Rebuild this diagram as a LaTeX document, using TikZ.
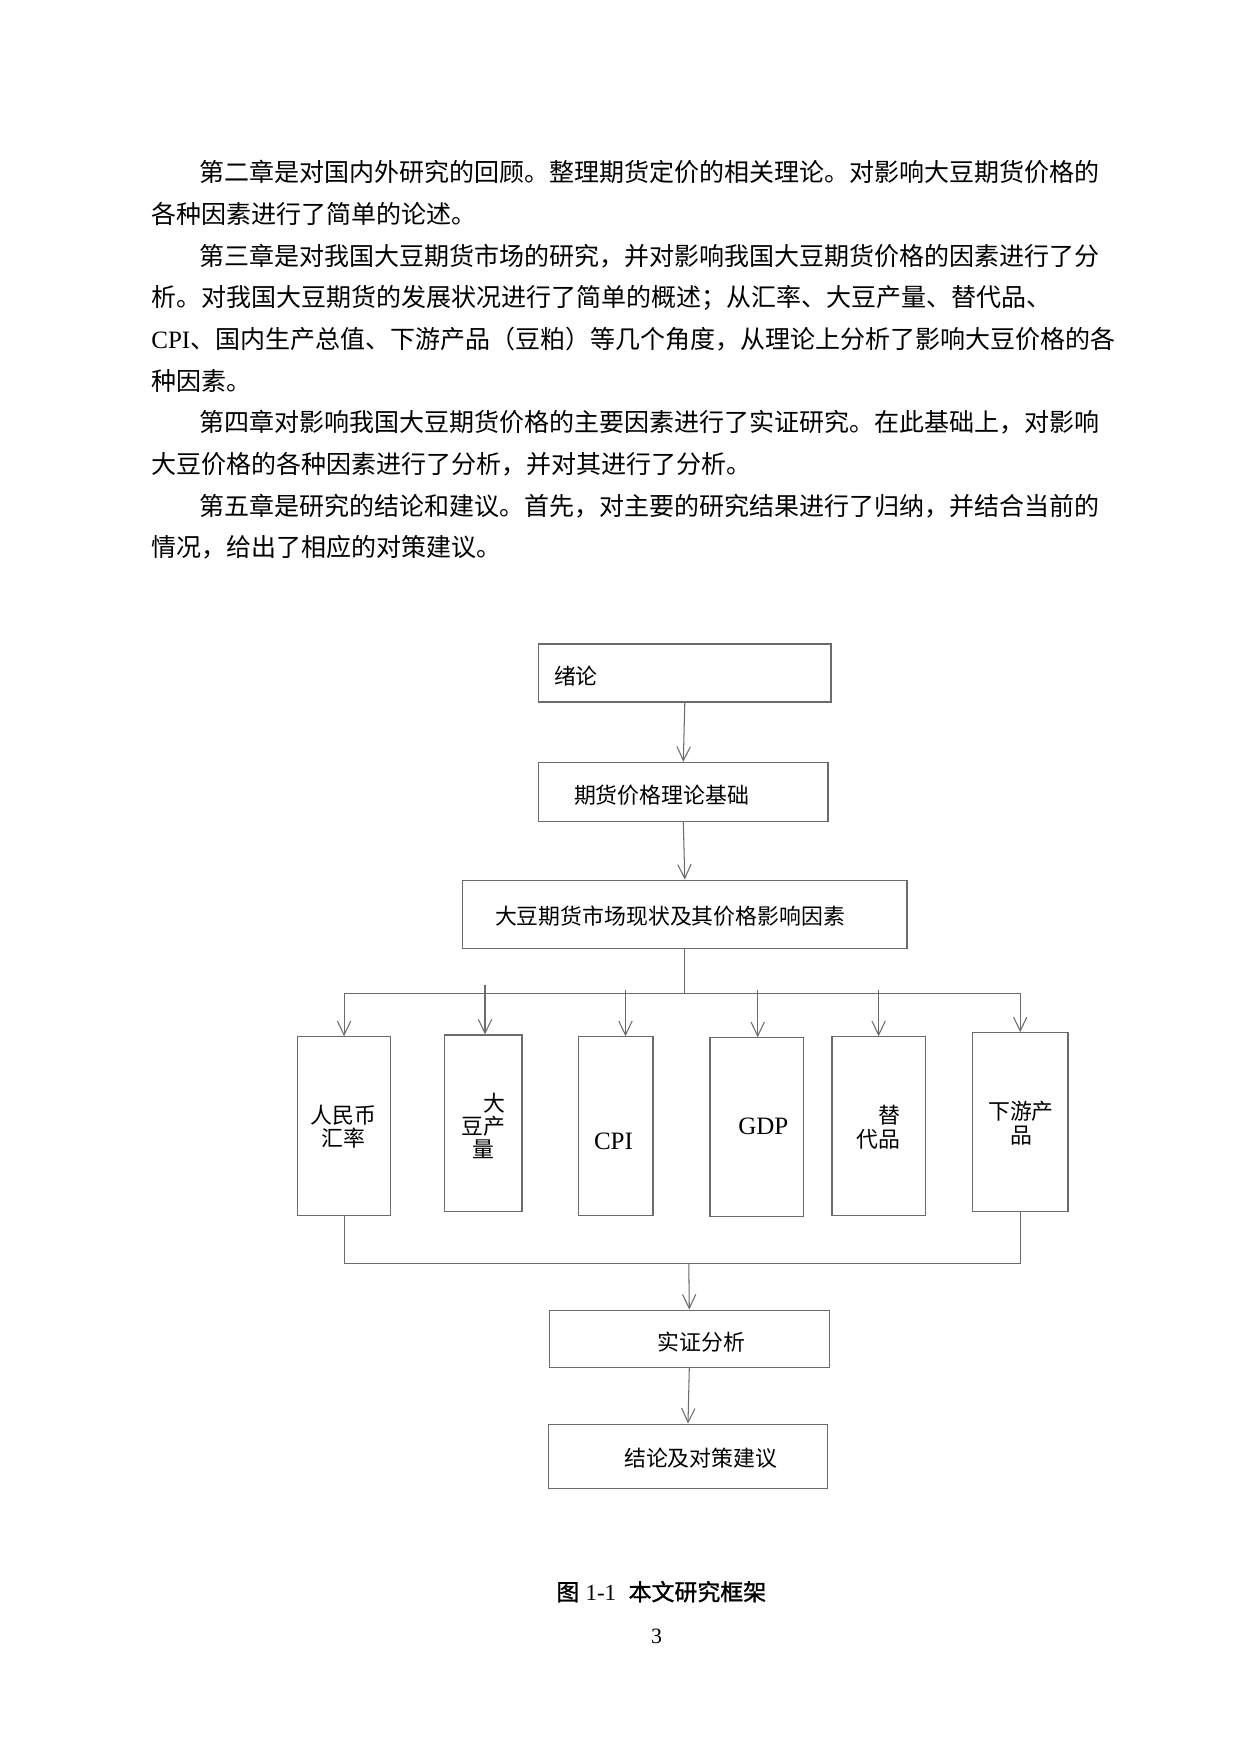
\documentclass[tikz,border=0pt]{standalone}
\usepackage{fontspec}
\setmainfont{Liberation Serif}
\newfontfamily\cjk{Noto Sans CJK SC}
\newfontfamily\cjkb[FakeBold=1.2]{Noto Sans CJK SC}
\usetikzlibrary{arrows.meta}
\XeTeXlinebreaklocale "zh"
\XeTeXlinebreakskip=0pt plus 2pt
\definecolor{lg}{gray}{0.42}
\begin{document}
\begin{tikzpicture}[x=0.48pt,y=-0.48pt,
  ln/.style={draw=lg, line width=0.5pt},
  arr/.style={ln, -{Straight Barb[length=6.7pt,width=6.4pt]}},
  bx/.style 2 args={draw=lg, line width=0.5pt, minimum width=#1*0.48pt, minimum height=#2*0.48pt, inner sep=0pt},
  body/.style={anchor=west, inner sep=0pt, font=\cjk\fontsize{12pt}{20pt}\selectfont, text height=10.6pt, text depth=1.4pt},
  jline/.style={body, text width=#1, align=justify},
  btxt/.style={inner sep=0pt, font=\cjk\fontsize{10.5pt}{11.2pt}\selectfont, align=center},
  ltxt/.style={inner sep=0pt, font=\fontsize{12pt}{14pt}\selectfont}
]
\fill[white] (0,0) rectangle (1240,1754);
\useasboundingbox (0,0) rectangle (1240,1754);

% body text
\node[jline=433.4pt] (l1) at (199,172.4) {\parfillskip=0pt 第二章是对国内外研究的回顾。整理期货定价的相关理论。对影响大豆期货价格的};
\node[body] (l2) at (151,214.1) {各种因素进行了简单的论述。};
\node[jline=433.4pt] (l3) at (199,255.8) {\parfillskip=0pt 第三章是对我国大豆期货市场的研究，并对影响我国大豆期货价格的因素进行了分};
\node[body] (l4) at (151,297.4) {析。对我国大豆期货的发展状况进行了简单的概述；从汇率、大豆产量、替代品、};
\node[jline=463.4pt] (l5) at (151,339.1) {\parfillskip=0pt {\rmfamily CPI}、国内生产总值、下游产品（豆粕）等几个角度，从理论上分析了影响大豆价格的各};
\node[body] (l6) at (151,380.8) {种因素。};
\node[jline=433.4pt] (l7) at (199,422.4) {\parfillskip=0pt 第四章对影响我国大豆期货价格的主要因素进行了实证研究。在此基础上，对影响};
\node[body] (l8) at (151,464.1) {大豆价格的各种因素进行了分析，并对其进行了分析。};
\node[jline=433.4pt] (l9) at (199,505.8) {\parfillskip=0pt 第五章是研究的结论和建议。首先，对主要的研究结果进行了归纳，并结合当前的};
\node[body] (l10) at (151,547.4) {情况，给出了相应的对策建议。};

% main boxes
\node[bx={292.4}{58}] (xulun) at (684.8,673) {};
\node[btxt, anchor=west] (txulun) at (553.6,676) {绪论};
\node[bx={289.4}{59}] (jichu) at (683.3,791.8) {};
\node[btxt] (tjichu) at (661.5,795) {期货价格理论基础};
\node[bx={444.4}{68.3}] (xz) at (684.8,914.2) {};
\node[btxt] (txz) at (670,916) {大豆期货市场现状及其价格影响因素};

% factor boxes
\node[bx={93.5}{178.6}] (rmb) at (344.05,1126) {};
\node[btxt] (trmb) at (343.7,1127) {人民币\\汇率};
\node[bx={77.6}{176.3}] (dd) at (483.2,1123.15) {};
\node[btxt] (tdd) at (483,1126) {\hphantom{豆}大\\豆产\\量};
\node[bx={74.4}{178.6}] (cpi) at (615.8,1126) {};
\node[ltxt] (tcpi) at (613.5,1141.3) {CPI};
\node[bx={93.6}{178.6}] (gdp) at (756.8,1127) {};
\node[ltxt] (tgdp) at (763.3,1126.7) {GDP};
\node[bx={93.5}{178.6}] (tdp) at (878.75,1126) {};
\node[btxt] (ttdp) at (878.6,1127.2) {\hphantom{代}替\\代品};
\node[bx={95.6}{178.6}] (xy) at (1020.2,1122) {};
\node[btxt] (txy) at (1021,1123) {下游产\\品};

% lower boxes
\node[bx={279.5}{57.3}] (sz) at (689.3,1338.7) {};
\node[btxt] (tsz) at (701.5,1341.7) {实证分析};
\node[bx={279}{64.3}] (jielun) at (688,1456.2) {};
\node[btxt] (tjielun) at (700.8,1458.3) {结论及对策建议};

% caption and page number
\node[anchor=west, inner sep=0pt, font=\fontsize{11pt}{13pt}\selectfont] (cap) at (556,1591.7) {{\cjkb 图}\hspace{3pt}1-1\hspace{6pt}{\cjkb 本文研究框架}};
\node[inner sep=0pt, font=\fontsize{10.5pt}{12pt}\selectfont] (pg) at (656.7,1636.7) {3};

% connectors
\draw[arr] (xulun.south) -- (jichu.north);
\draw[arr] (jichu.south) -- (xz.north);
\coordinate (bus) at (684.8,993.5);
\draw[ln] (xz.south) -- (bus);
\draw[arr] (bus) -| (rmb.north);
\draw[arr] (bus) -| (xy.north);
\coordinate (s2) at (485,985);
\coordinate (s3) at (625.5,990);
\coordinate (s4) at (757.7,990);
\coordinate (s5) at (878.6,990);
\draw[arr] (s2) -- (s2 |- dd.north);
\draw[arr] (s3) -- (s3 |- cpi.north);
\draw[arr] (s4) -- (s4 |- gdp.north);
\draw[arr] (s5) -- (s5 |- tdp.north);
\coordinate (mg) at (688.8,1263.5);
\draw[ln] (rmb.south) |- (mg);
\draw[ln] (xy.south) |- (mg);
\draw[arr] (mg) -- (sz.north);
\draw[arr] (sz.south) -- (jielun.north);
\end{tikzpicture}
\end{document}
